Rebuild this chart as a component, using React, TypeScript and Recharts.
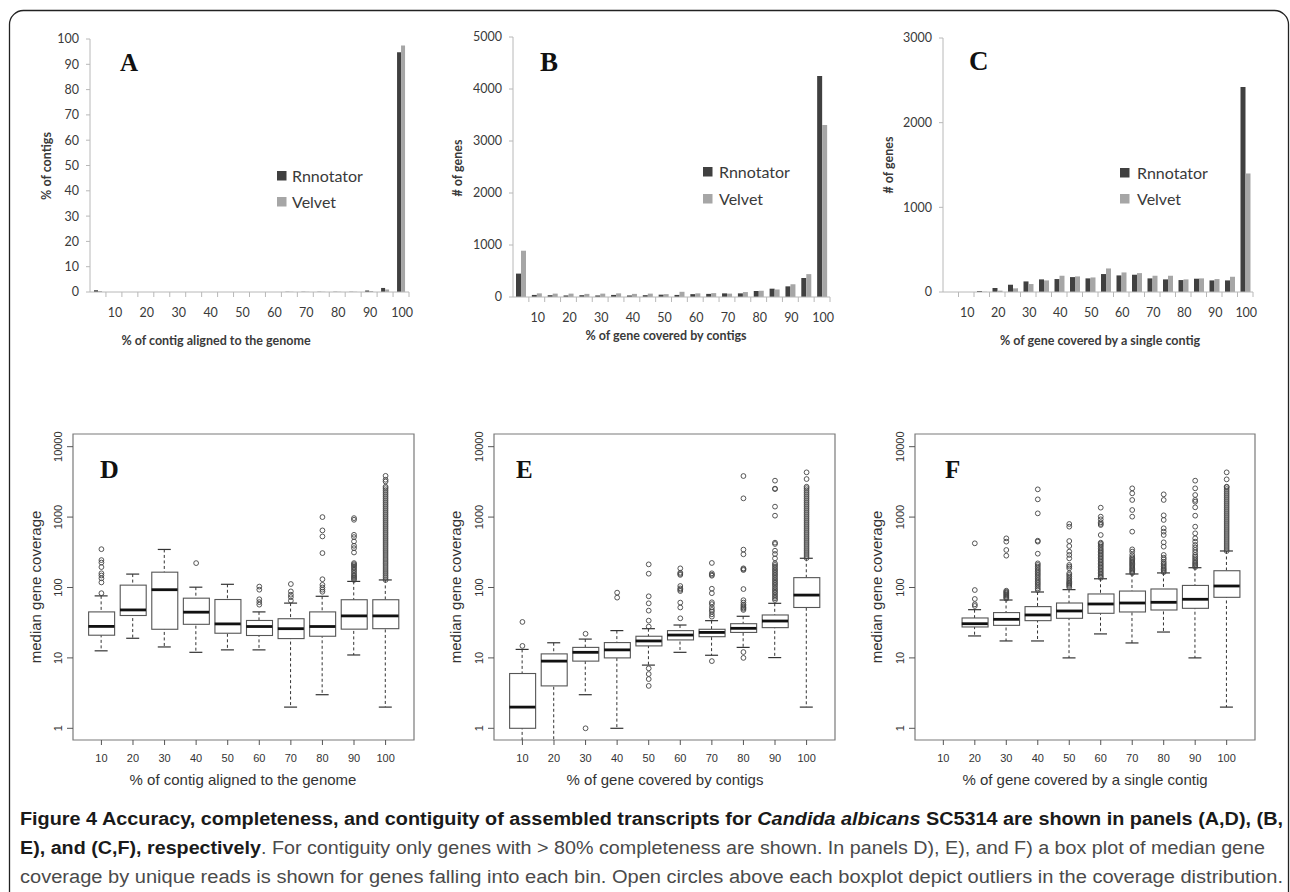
import React from "react";
import { Bar, BarChart, ComposedChart, ReferenceArea, Scatter, XAxis, YAxis } from "recharts";

// ---- histogram panels (A, B, C) ----
const HIST_BINS = [5, 10, 15, 20, 25, 30, 35, 40, 45, 50, 55, 60, 65, 70, 75, 80, 85, 90, 95, 100];

const A_RNNOTATOR = [0.7, 0, 0, 0, 0, 0, 0, 0, 0, 0, 0, 0, 0.1, 0.1, 0.1, 0.1, 0.1, 0.6, 1.6, 94.8];
const A_VELVET = [0.4, 0, 0, 0, 0, 0, 0, 0, 0, 0, 0, 0, 0.1, 0.1, 0.1, 0.1, 0.1, 0.4, 1.0, 97.4];
const A_TICKS = [0, 10, 20, 30, 40, 50, 60, 70, 80, 90, 100];

const B_RNNOTATOR = [450, 40, 35, 30, 35, 30, 40, 30, 35, 45, 40, 55, 60, 70, 70, 115, 160, 205, 365, 4250];
const B_VELVET = [890, 70, 65, 65, 60, 65, 70, 60, 65, 55, 100, 70, 75, 65, 95, 120, 145, 245, 440, 3310];
const B_TICKS = [0, 1000, 2000, 3000, 4000, 5000];

const C_RNNOTATOR = [0, 0, 12, 47, 86, 125, 149, 153, 176, 161, 212, 196, 204, 161, 149, 141, 157, 137, 137, 2420];
const C_VELVET = [0, 0, 3, 16, 43, 94, 137, 192, 184, 172, 278, 231, 223, 192, 192, 149, 161, 153, 180, 1400];
const C_TICKS = [0, 1000, 2000, 3000];

// ---- box plot panels (D, E, F) ----
const BOX_BINS = [10, 20, 30, 40, 50, 60, 70, 80, 90, 100];
const BOX_TICKS = [1, 10, 100, 1000, 10000];

const D_MIN = [12.6, 19, 14.3, 12, 13, 13, 2.0, 3.0, 11, 2.0];
const D_Q1 = [21, 40, 25.5, 30, 22.4, 20.8, 18.8, 20.3, 25.6, 26];
const D_MED = [28, 48, 93, 44.6, 30.4, 27.9, 26, 27.9, 39.5, 39.5];
const D_Q3 = [45, 108, 165, 70.5, 67.5, 34, 36, 45, 67, 67];
const D_MAX = [76, 155, 347, 101, 111, 45, 60, 75, 122, 128];
const D_OUT = [
  [83, 118, 135, 148, 159, 195, 226, 245, 350],
  [],
  [],
  [222],
  [],
  [57, 62, 68, 93, 103],
  [65, 73, 79, 88, 112],
  [87, 93, 100, 109, 131, 308, 531, 647, 1000],
  [128, 134, 139, 145, 151, 160, 169, 178, 188, 197, 206, 214, 222, 314, 362, 391, 451, 520, 560, 915, 967],
  [128, 137, 146, 156, 166, 177, 189, 202, 216, 230, 246, 262, 280, 299, 319, 340, 363, 388, 414, 442, 472, 503,
    537, 574, 612, 654, 698, 745, 795, 849, 906, 967, 1032, 1102, 1176, 1256, 1340, 1431, 1527, 1630, 1740, 1858,
    1983, 2117, 2260, 2412, 2575, 2700, 3200, 3390, 3850],
];

const E_MIN = [0.5, 0.5, 3.0, 1.0, 7.9, 12, 10.9, 14.1, 10.1, 2.0];
const E_Q1 = [1.0, 4.0, 9.0, 10, 14.8, 18, 20, 23, 26.9, 52];
const E_MED = [2.0, 9.0, 12.0, 13, 17.4, 21.1, 23, 26.3, 33.4, 78];
const E_Q3 = [6.0, 11.4, 14.1, 16.5, 20.3, 24.4, 25.5, 30.6, 40.7, 138];
const E_MAX = [13.2, 16.4, 18.5, 24.4, 26, 29.3, 33.8, 39, 59.6, 260];
const E_OUT = [
  [14.8, 32.4],
  [],
  [1.0, 22],
  [71.8, 84.5],
  [4.0, 5.0, 5.9, 7.1, 27.8, 33.8, 46.9, 59.6, 75, 157, 213],
  [36.5, 52, 61, 89, 93, 97, 105, 151, 156, 162, 187],
  [9.0, 38.5, 41.6, 45.4, 48, 52, 58, 61.6, 83, 96, 147, 152, 159, 223],
  [10, 12.1, 48, 50, 52, 54.6, 57, 61, 66, 95, 177, 182, 187, 296, 345, 1846, 3830],
  [66.4, 70, 74, 78, 83, 87, 92, 97, 103, 109, 115, 121, 128, 135, 143, 151, 159, 168, 177, 187, 198, 209, 220,
    259, 299, 333, 415, 433, 1047, 1407, 2500, 2535, 3290],
  [262, 280, 299, 319, 340, 363, 388, 414, 442, 472, 503, 537, 574, 612, 654, 698, 745, 795, 849, 906, 967, 1032,
    1102, 1176, 1256, 1340, 1431, 1527, 1630, 1740, 1858, 1983, 2117, 2260, 2412, 2575, 2700, 3470, 4320],
];

const F_MIN = [null, 20.5, 17.4, 17.4, 10, 21.9, 16.3, 23.3, 10, 2.0];
const F_Q1 = [null, 27.5, 29, 33.8, 36.5, 43, 44.9, 47.9, 50.6, 72.5];
const F_MED = [null, 30.6, 35.3, 40.7, 46.4, 58.3, 60.2, 61.6, 68, 105];
const F_Q3 = [null, 36.9, 44, 53.5, 60.2, 80.9, 89, 95.2, 107, 173];
const F_MAX = [null, 48.4, 66.4, 86.3, 93.2, 133, 155.6, 161, 191, 330];
const F_OUT = [
  [],
  [54.6, 57.7, 68.7, 92, 424],
  [69.4, 72, 74, 77, 79, 82, 84.5, 87, 90, 283, 341, 448, 499],
  [92, 97, 103, 109, 115, 121, 128, 135, 143, 151, 159, 168, 177, 187, 198, 209, 220, 302, 448, 462, 1130, 1786, 2478],
  [100.5, 105, 109, 113, 117, 122, 128, 135, 143, 151, 159, 187, 198, 209, 259, 290, 323, 388, 457, 731, 798],
  [137, 143, 150, 157, 165, 173, 182, 191, 200, 210, 220, 231, 243, 255, 268, 281, 295, 310, 325, 341, 358, 380,
    400, 420, 433, 557, 772, 800, 842, 929, 1014, 1361],
  [160, 166, 173, 180, 187, 195, 203, 211, 220, 229, 238, 248, 259, 270, 290, 323, 348, 621, 1014, 1260, 1750, 2175, 2560],
  [165, 172, 180, 188, 198, 209, 220, 232, 251, 265, 290, 380, 438, 557, 621, 693, 910, 1059, 1750, 2104],
  [195, 203, 213, 222, 232, 246, 260, 275, 290, 315, 341, 370, 402, 448, 499, 588, 731, 1047, 1376, 1656, 1750,
    2060, 2560, 3290],
  [330, 352, 376, 401, 428, 457, 488, 521, 556, 594, 634, 676, 722, 771, 823, 878, 937, 1001, 1068, 1140, 1217,
    1299, 1387, 1481, 1581, 1687, 1801, 1923, 2053, 2191, 2339, 2497, 2665, 2700, 3436, 4320],
];

const HIST_FONT = "Lato, 'Open Sans', sans-serif";
const R_FONT = "'Liberation Sans', Arial, sans-serif";
const SERIF = "'Liberation Serif', 'Times New Roman', serif";
const CAPTION_FONT = "'Liberation Sans Narrow', 'Liberation Sans', sans-serif";
const AXIS_GRAY = "#b8b8b8";
const HIST_TEXT = "#3a3a3a";
const R_TEXT = "#333";
const DARK_BAR = "#404040";
const LIGHT_BAR = "#a6a6a6";
const LOG_DOMAIN: [number, number] = [0.682, 15140];

function HistTick(props: any) {
  const { x, y, payload, band } = props;
  const v = Number(payload.value);
  return (
    <g>
      <line x1={x + band / 2} x2={x + band / 2} y1={y} y2={y + 5} stroke={AXIS_GRAY} />
      {v % 10 === 0 && (
        <text x={x + 1} y={y + 25} textAnchor="middle" fontSize={12.5} fill={HIST_TEXT} fontFamily={HIST_FONT}>
          {v}
        </text>
      )}
    </g>
  );
}

type HistProps = {
  left: number;
  axisWidth: number;
  top: number;
  right: number;
  bottom: number;
  rnn: number[];
  vel: number[];
  ticks: number[];
  barSize: number;
};

function HistPanel({ left, axisWidth, top, right, bottom, rnn, vel, ticks, barSize }: HistProps) {
  const data = HIST_BINS.map((bin, i) => ({ bin, rnn: rnn[i], vel: vel[i] }));
  const band = (430 - axisWidth - right) / HIST_BINS.length;
  return (
    <div style={{ position: "absolute", left, top: 0 }}>
      <BarChart
        width={430}
        height={345}
        data={data}
        barGap={0}
        margin={{ top, right, left: 0, bottom: 345 - bottom - 20 }}
      >
        <XAxis
          dataKey="bin"
          interval={0}
          height={20}
          tickLine={false}
          tickSize={0}
          tickMargin={0}
          axisLine={{ stroke: AXIS_GRAY }}
          tick={(t: any) => <HistTick {...t} band={band} />}
        />
        <YAxis
          type="number"
          domain={[0, ticks[ticks.length - 1]]}
          ticks={ticks}
          interval={0}
          width={axisWidth}
          tickSize={4}
          tickMargin={7}
          axisLine={{ stroke: AXIS_GRAY }}
          tickLine={{ stroke: AXIS_GRAY }}
          tick={{ fontSize: 12.5, fill: HIST_TEXT, fontFamily: HIST_FONT }}
        />
        <Bar dataKey="rnn" fill={DARK_BAR} barSize={barSize} isAnimationActive={false} />
        <Bar dataKey="vel" fill={LIGHT_BAR} barSize={barSize} isAnimationActive={false} />
      </BarChart>
    </div>
  );
}

function Whisker(props: any) {
  const { x, y, width, height } = props;
  if (!Number.isFinite(y) || !Number.isFinite(height)) return null;
  const cx = x + width / 2;
  return (
    <g>
      <line x1={cx} x2={cx} y1={y} y2={y + height} stroke="#333" strokeWidth={1} strokeDasharray="3 2.5" />
      <line x1={x} x2={x + width} y1={y} y2={y} stroke="#333" strokeWidth={1.2} />
      <line x1={x} x2={x + width} y1={y + height} y2={y + height} stroke="#333" strokeWidth={1.2} />
    </g>
  );
}

function BoxShape(props: any) {
  const { x, y, width, height } = props;
  if (!Number.isFinite(y) || !Number.isFinite(height)) return null;
  return <rect x={x} y={y} width={width} height={height} fill="#fff" stroke="#555" strokeWidth={1.1} />;
}

function MedianShape(props: any) {
  const { cx, cy } = props;
  return <line x1={cx - 13} x2={cx + 13} y1={cy} y2={cy} stroke="#111" strokeWidth={2.8} />;
}

function OutlierShape(props: any) {
  const { cx, cy } = props;
  return <circle cx={cx} cy={cy} r={2.4} fill="none" stroke="#444" strokeWidth={0.9} />;
}

function LogTick(props: any) {
  const { x, y, payload } = props;
  return (
    <text
      x={x}
      y={y}
      transform={`rotate(-90 ${x} ${y})`}
      textAnchor="middle"
      fontSize={11}
      fill={R_TEXT}
      fontFamily={R_FONT}
    >
      {payload.value}
    </text>
  );
}

type BoxProps = {
  left: number;
  right: number;
  mins: (number | null)[];
  q1s: (number | null)[];
  meds: (number | null)[];
  q3s: (number | null)[];
  maxs: (number | null)[];
  outs: number[][];
};

function BoxPanel({ left, right, mins, q1s, meds, q3s, maxs, outs }: BoxProps) {
  const rows = BOX_BINS.map((x, i) => ({
    x,
    whisk: [mins[i], maxs[i]],
    box: [q1s[i], q3s[i]],
    med: meds[i],
  })).filter((r) => r.med != null);
  const outliers = BOX_BINS.flatMap((x, i) => outs[i].map((v) => ({ x, v })));
  return (
    <div style={{ position: "absolute", left, top: 400 }}>
      <ComposedChart width={430} height={400} data={rows} margin={{ top: 34, right, left: 0, bottom: 30 }}>
        <XAxis
          xAxisId="main"
          dataKey="x"
          type="number"
          domain={[1, 109]}
          allowDataOverflow
          ticks={BOX_BINS}
          interval={0}
          height={30}
          tickSize={5}
          tickMargin={9}
          axisLine={false}
          tickLine={{ stroke: "#555" }}
          tick={{ fontSize: 11, fill: R_TEXT, fontFamily: R_FONT }}
        />
        <XAxis xAxisId="w" dataKey="x" type="number" domain={[1, 109]} allowDataOverflow hide height={0} />
        <XAxis xAxisId="b" dataKey="x" type="number" domain={[1, 109]} allowDataOverflow hide height={0} />
        <YAxis
          scale="log"
          type="number"
          domain={LOG_DOMAIN}
          allowDataOverflow
          ticks={BOX_TICKS}
          interval={0}
          width={73}
          tickSize={6}
          tickMargin={5}
          axisLine={false}
          tickLine={{ stroke: "#555" }}
          tick={(t: any) => <LogTick {...t} />}
        />
        <ReferenceArea
          xAxisId="main"
          x1={1}
          x2={109}
          y1={LOG_DOMAIN[0]}
          y2={LOG_DOMAIN[1]}
          fill="none"
          stroke="#7a7a7a"
          strokeWidth={1.2}
          ifOverflow="visible"
        />
        <Bar xAxisId="w" dataKey="whisk" barSize={13} shape={Whisker} isAnimationActive={false} />
        <Bar xAxisId="b" dataKey="box" barSize={26} shape={BoxShape} isAnimationActive={false} />
        <Scatter xAxisId="main" dataKey="med" shape={MedianShape} isAnimationActive={false} />
        <Scatter xAxisId="main" data={outliers} dataKey="v" shape={OutlierShape} isAnimationActive={false} />
      </ComposedChart>
    </div>
  );
}

function Legend2({ sx, tx, y1, y2 }: { sx: number; tx: number; y1: number; y2: number }) {
  return (
    <g fontFamily={HIST_FONT} fontSize={16} fill={HIST_TEXT}>
      <rect x={sx} y={y1 - 5} width={9.5} height={9.5} fill={DARK_BAR} />
      <text x={tx} y={y1 + 5.5}>Rnnotator</text>
      <rect x={sx} y={y2 - 5} width={9.5} height={9.5} fill={LIGHT_BAR} />
      <text x={tx} y={y2 + 5.5}>Velvet</text>
    </g>
  );
}

function RotTitle({ x, y, text, size, weight, font, fill }: any) {
  return (
    <text
      transform={`translate(${x} ${y}) rotate(-90)`}
      textAnchor="middle"
      dominantBaseline="central"
      fontSize={size}
      fontWeight={weight}
      fontFamily={font}
      fill={fill}
    >
      {text}
    </text>
  );
}

function Overlay() {
  return (
    <svg width={1290} height={892} style={{ position: "absolute", left: 0, top: 0, pointerEvents: "none" }}>
      <rect x={9.5} y={10.5} width={1279} height={1100} rx={14} fill="none" stroke="#222" strokeWidth={1.3} />

      {/* panel letters */}
      <g fontFamily={SERIF} fontWeight="bold" fill="#111">
        <text x={120} y={70.5} fontSize={25}>A</text>
        <text x={540} y={70.5} fontSize={27}>B</text>
        <text x={969} y={70} fontSize={27}>C</text>
        <text x={100} y={478} fontSize={26}>D</text>
        <text x={516} y={478} fontSize={25}>E</text>
        <text x={945} y={478} fontSize={25}>F</text>
      </g>

      {/* histogram titles */}
      <RotTitle x={46} y={166} text="% of contigs" size={12.5} weight="bold" font={HIST_FONT} fill={HIST_TEXT} />
      <RotTitle x={457.5} y={168} text="# of genes" size={12.5} weight="bold" font={HIST_FONT} fill={HIST_TEXT} />
      <RotTitle x={888} y={165} text="# of genes" size={12.5} weight="bold" font={HIST_FONT} fill={HIST_TEXT} />
      <g fontFamily={HIST_FONT} fontSize={12.5} fontWeight="bold" fill={HIST_TEXT} textAnchor="middle">
        <text x={216} y={345}>% of contig aligned to the genome</text>
        <text x={666} y={340}>% of gene covered by contigs</text>
        <text x={1100} y={345}>% of gene covered by a single contig</text>
      </g>
      <Legend2 sx={277} tx={292} y1={176} y2={202} />
      <Legend2 sx={703} tx={719} y1={172} y2={199} />
      <Legend2 sx={1120} tx={1137} y1={173} y2={199} />

      {/* box plot titles */}
      <RotTitle x={35.5} y={587} text="median gene coverage" size={15} font={R_FONT} fill={R_TEXT} />
      <RotTitle x={455.5} y={587} text="median gene coverage" size={15} font={R_FONT} fill={R_TEXT} />
      <RotTitle x={876.5} y={587} text="median gene coverage" size={15} font={R_FONT} fill={R_TEXT} />
      <g fontFamily={R_FONT} fontSize={15} fill={R_TEXT} textAnchor="middle">
        <text x={243} y={785}>% of contig aligned to the genome</text>
        <text x={665} y={785}>% of gene covered by contigs</text>
        <text x={1085} y={785}>% of gene covered by a single contig</text>
      </g>

      {/* caption */}
      <g fontFamily={CAPTION_FONT} fontSize={18}>
        <text x={20} y={825} textLength={1263} lengthAdjust="spacingAndGlyphs" fontWeight="bold" fill="#1a1a1a">
          Figure 4 Accuracy, completeness, and contiguity of assembled transcripts for{" "}
          <tspan fontStyle="italic">Candida albicans</tspan> SC5314 are shown in panels (A,D), (B,
        </text>
        <text x={20} y={854} textLength={1245} lengthAdjust="spacingAndGlyphs" fill="#4a4a4a">
          <tspan fontWeight="bold" fill="#1a1a1a">E), and (C,F), respectively</tspan>. For contiguity only genes with
          {" > "}80% completeness are shown. In panels D), E), and F) a box plot of median gene
        </text>
        <text x={20} y={883} textLength={1263} lengthAdjust="spacingAndGlyphs" fill="#4a4a4a">
          coverage by unique reads is shown for genes falling into each bin. Open circles above each boxplot depict
          outliers in the coverage distribution.
        </text>
      </g>
    </svg>
  );
}

export default function App() {
  return (
    <div
      style={{
        position: "absolute",
        left: 0,
        top: 0,
        width: 1290,
        height: 892,
        overflow: "hidden",
        background: "#fff",
      }}
    >
      <HistPanel left={0} axisWidth={90} top={39} right={21} bottom={292} rnn={A_RNNOTATOR} vel={A_VELVET} ticks={A_TICKS} barSize={4} />
      <HistPanel left={430} axisWidth={83} top={37} right={30} bottom={297} rnn={B_RNNOTATOR} vel={B_VELVET} ticks={B_TICKS} barSize={5} />
      <HistPanel left={860} axisWidth={83} top={38} right={37} bottom={292} rnn={C_RNNOTATOR} vel={C_VELVET} ticks={C_TICKS} barSize={5} />
      <BoxPanel left={0} right={16} mins={D_MIN} q1s={D_Q1} meds={D_MED} q3s={D_Q3} maxs={D_MAX} outs={D_OUT} />
      <BoxPanel left={421} right={16} mins={E_MIN} q1s={E_Q1} meds={E_MED} q3s={E_Q3} maxs={E_MAX} outs={E_OUT} />
      <BoxPanel left={842} right={17} mins={F_MIN} q1s={F_Q1} meds={F_MED} q3s={F_Q3} maxs={F_MAX} outs={F_OUT} />
      <Overlay />
    </div>
  );
}
